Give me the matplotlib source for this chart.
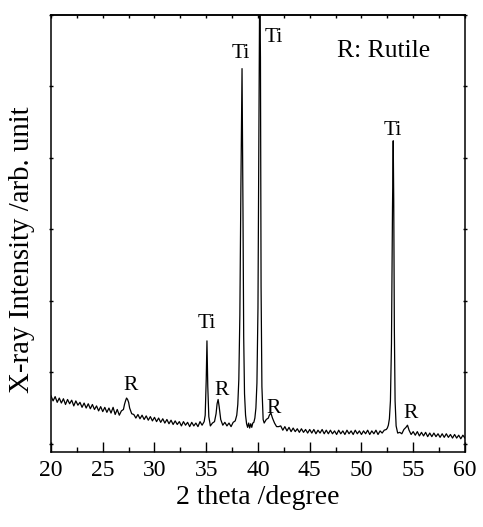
import numpy as np
import matplotlib
matplotlib.use("Agg")
import matplotlib.pyplot as plt

# 2 theta (degree) and intensity (arb. unit)
two_theta = [
    20.0, 20.2, 20.4, 20.6, 20.8, 21.0, 21.2, 21.4, 21.6, 21.8,
    22.0, 22.2, 22.4, 22.6, 22.8, 23.0, 23.2, 23.4, 23.6, 23.8,
    24.0, 24.2, 24.4, 24.6, 24.8, 25.0, 25.2, 25.4, 25.6, 25.8,
    26.0, 26.2, 26.4, 26.6, 26.8, 27.0, 27.1, 27.2, 27.3, 27.4,
    27.5, 27.6, 27.7, 27.8, 28.0, 28.2, 28.4, 28.6, 28.8, 29.0,
    29.2, 29.4, 29.6, 29.8, 30.0, 30.2, 30.4, 30.6, 30.8, 31.0,
    31.2, 31.4, 31.6, 31.8, 32.0, 32.2, 32.4, 32.6, 32.8, 33.0,
    33.2, 33.4, 33.6, 33.8, 34.0, 34.2, 34.4, 34.6, 34.8, 34.9,
    35.0, 35.07, 35.15, 35.25, 35.4, 35.6, 35.8, 35.95, 36.05, 36.15,
    36.25, 36.4, 36.6, 36.8, 37.0, 37.2, 37.4, 37.6, 37.8, 37.95,
    38.05, 38.15, 38.25, 38.35, 38.46, 38.55, 38.62, 38.7, 38.8, 38.9,
    39.0, 39.1, 39.2, 39.3, 39.4, 39.5, 39.6, 39.7, 39.8, 39.9,
    40.0, 40.1, 40.17, 40.24, 40.3, 40.38, 40.5, 40.6, 40.8, 41.0,
    41.1, 41.25, 41.4, 41.6, 41.8, 42.0, 42.2, 42.4, 42.6, 42.8,
    43.0, 43.2, 43.4, 43.6, 43.8, 44.0, 44.2, 44.4, 44.6, 44.8,
    45.0, 45.2, 45.4, 45.6, 45.8, 46.0, 46.2, 46.4, 46.6, 46.8,
    47.0, 47.2, 47.4, 47.6, 47.8, 48.0, 48.2, 48.4, 48.6, 48.8,
    49.0, 49.2, 49.4, 49.6, 49.8, 50.0, 50.2, 50.4, 50.6, 50.8,
    51.0, 51.2, 51.4, 51.6, 51.8, 52.0, 52.2, 52.4, 52.5, 52.6,
    52.7, 52.8, 52.9, 53.0, 53.07, 53.12, 53.18, 53.25, 53.35, 53.5,
    53.7, 53.9, 54.1, 54.3, 54.45, 54.6, 54.8, 55.0, 55.2, 55.4,
    55.6, 55.8, 56.0, 56.2, 56.4, 56.6, 56.8, 57.0, 57.2, 57.4,
    57.6, 57.8, 58.0, 58.2, 58.4, 58.6, 58.8, 59.0, 59.2, 59.4,
    59.6, 59.8, 60.0,
]
intensity = [
    0.67, 0.60, 0.66, 0.58, 0.64, 0.57, 0.63, 0.55, 0.62, 0.56,
    0.61, 0.53, 0.60, 0.54, 0.58, 0.51, 0.57, 0.50, 0.56, 0.49,
    0.55, 0.48, 0.53, 0.46, 0.52, 0.45, 0.51, 0.44, 0.50, 0.43,
    0.51, 0.41, 0.48, 0.40, 0.46, 0.48, 0.55, 0.60, 0.64, 0.62,
    0.58, 0.50, 0.46, 0.42, 0.41, 0.36, 0.41, 0.35, 0.40, 0.34,
    0.39, 0.33, 0.38, 0.32, 0.37, 0.31, 0.36, 0.30, 0.35, 0.29,
    0.34, 0.28, 0.33, 0.27, 0.32, 0.27, 0.31, 0.25, 0.31, 0.26,
    0.30, 0.24, 0.30, 0.25, 0.29, 0.24, 0.31, 0.26, 0.31, 0.40,
    0.90, 1.44, 0.80, 0.38, 0.25, 0.29, 0.31, 0.42, 0.56, 0.62,
    0.52, 0.34, 0.26, 0.30, 0.25, 0.29, 0.24, 0.30, 0.32, 0.40,
    0.55, 0.90, 1.80, 3.60, 5.25, 3.30, 1.50, 0.70, 0.40, 0.28,
    0.23, 0.29, 0.22, 0.28, 0.23, 0.29, 0.30, 0.36, 0.50, 0.85,
    1.90, 4.50, 6.60, 5.40, 2.20, 0.80, 0.34, 0.29, 0.34, 0.36,
    0.40, 0.43, 0.36, 0.29, 0.24, 0.24, 0.25, 0.19, 0.24, 0.18,
    0.23, 0.17, 0.22, 0.17, 0.21, 0.16, 0.21, 0.16, 0.20, 0.15,
    0.20, 0.15, 0.20, 0.14, 0.19, 0.15, 0.20, 0.14, 0.19, 0.14,
    0.19, 0.14, 0.18, 0.13, 0.19, 0.14, 0.18, 0.13, 0.19, 0.14,
    0.18, 0.13, 0.19, 0.14, 0.18, 0.13, 0.18, 0.14, 0.19, 0.13,
    0.18, 0.14, 0.19, 0.13, 0.18, 0.15, 0.19, 0.20, 0.22, 0.26,
    0.35, 0.60, 1.40, 3.30, 4.24, 3.40, 1.60, 0.60, 0.25, 0.15,
    0.16, 0.14, 0.20, 0.23, 0.26, 0.19, 0.13, 0.17, 0.12, 0.17,
    0.11, 0.16, 0.11, 0.16, 0.10, 0.15, 0.10, 0.15, 0.10, 0.14,
    0.09, 0.14, 0.09, 0.14, 0.09, 0.13, 0.08, 0.13, 0.08, 0.12,
    0.07, 0.12, 0.08,
]

# peak labels: text, 2 theta, height
labels = ["Ti", "Ti", "Ti", "Ti", "R", "R", "R", "R"]
label_x = [35.1, 38.3, 41.5, 53.0, 27.7, 36.5, 41.5, 54.75]
label_y = [1.69, 5.46, 5.69, 4.38, 0.81, 0.74, 0.50, 0.43]

plt.rcParams['font.family'] = ['Liberation Serif', 'DejaVu Serif']

fig = plt.figure(figsize=(4.83, 5.27), dpi=100)
ax = fig.add_axes([0.1056, 0.143, 0.857, 0.8285])

ax.plot(two_theta, intensity, color='black', lw=0.9)

for t, x, y in zip(labels, label_x, label_y):
    ax.text(x, y, t, ha='center', va='center', fontsize=15.5)
ax.text(52.1, 5.5, "R: Rutile", ha='center', va='center', fontsize=18.4)

ax.set_xlim(20, 60)
ax.set_ylim(-0.11, 6)
ax.set_xticks(np.arange(20, 61, 5))
ax.set_xticks(np.arange(20, 61, 2.5), minor=True)
ax.set_yticks(np.arange(0, 7, 1))
ax.tick_params(axis='x', which='major', direction='in', length=7, width=1, labelsize=17, pad=6)
ax.tick_params(axis='x', which='minor', direction='in', length=3.5, width=1)
ax.tick_params(axis='y', direction='inout', length=3, width=1, labelleft=False, right=True)

top = ax.secondary_xaxis('top')
top.set_xticks(np.arange(20, 61, 2.5))
top.tick_params(direction='in', length=2, width=1, labeltop=False)

for s in ax.spines.values():
    s.set_linewidth(1.1)
top.spines['top'].set_linewidth(1.1)

ax.set_xlabel("2 theta /degree", fontsize=20, labelpad=3)
ax.set_ylabel("X-ray Intensity /arb. unit", fontsize=20.8)
ax.yaxis.set_label_coords(-0.039, 0.462)

fig.savefig("out.png", dpi=100)
